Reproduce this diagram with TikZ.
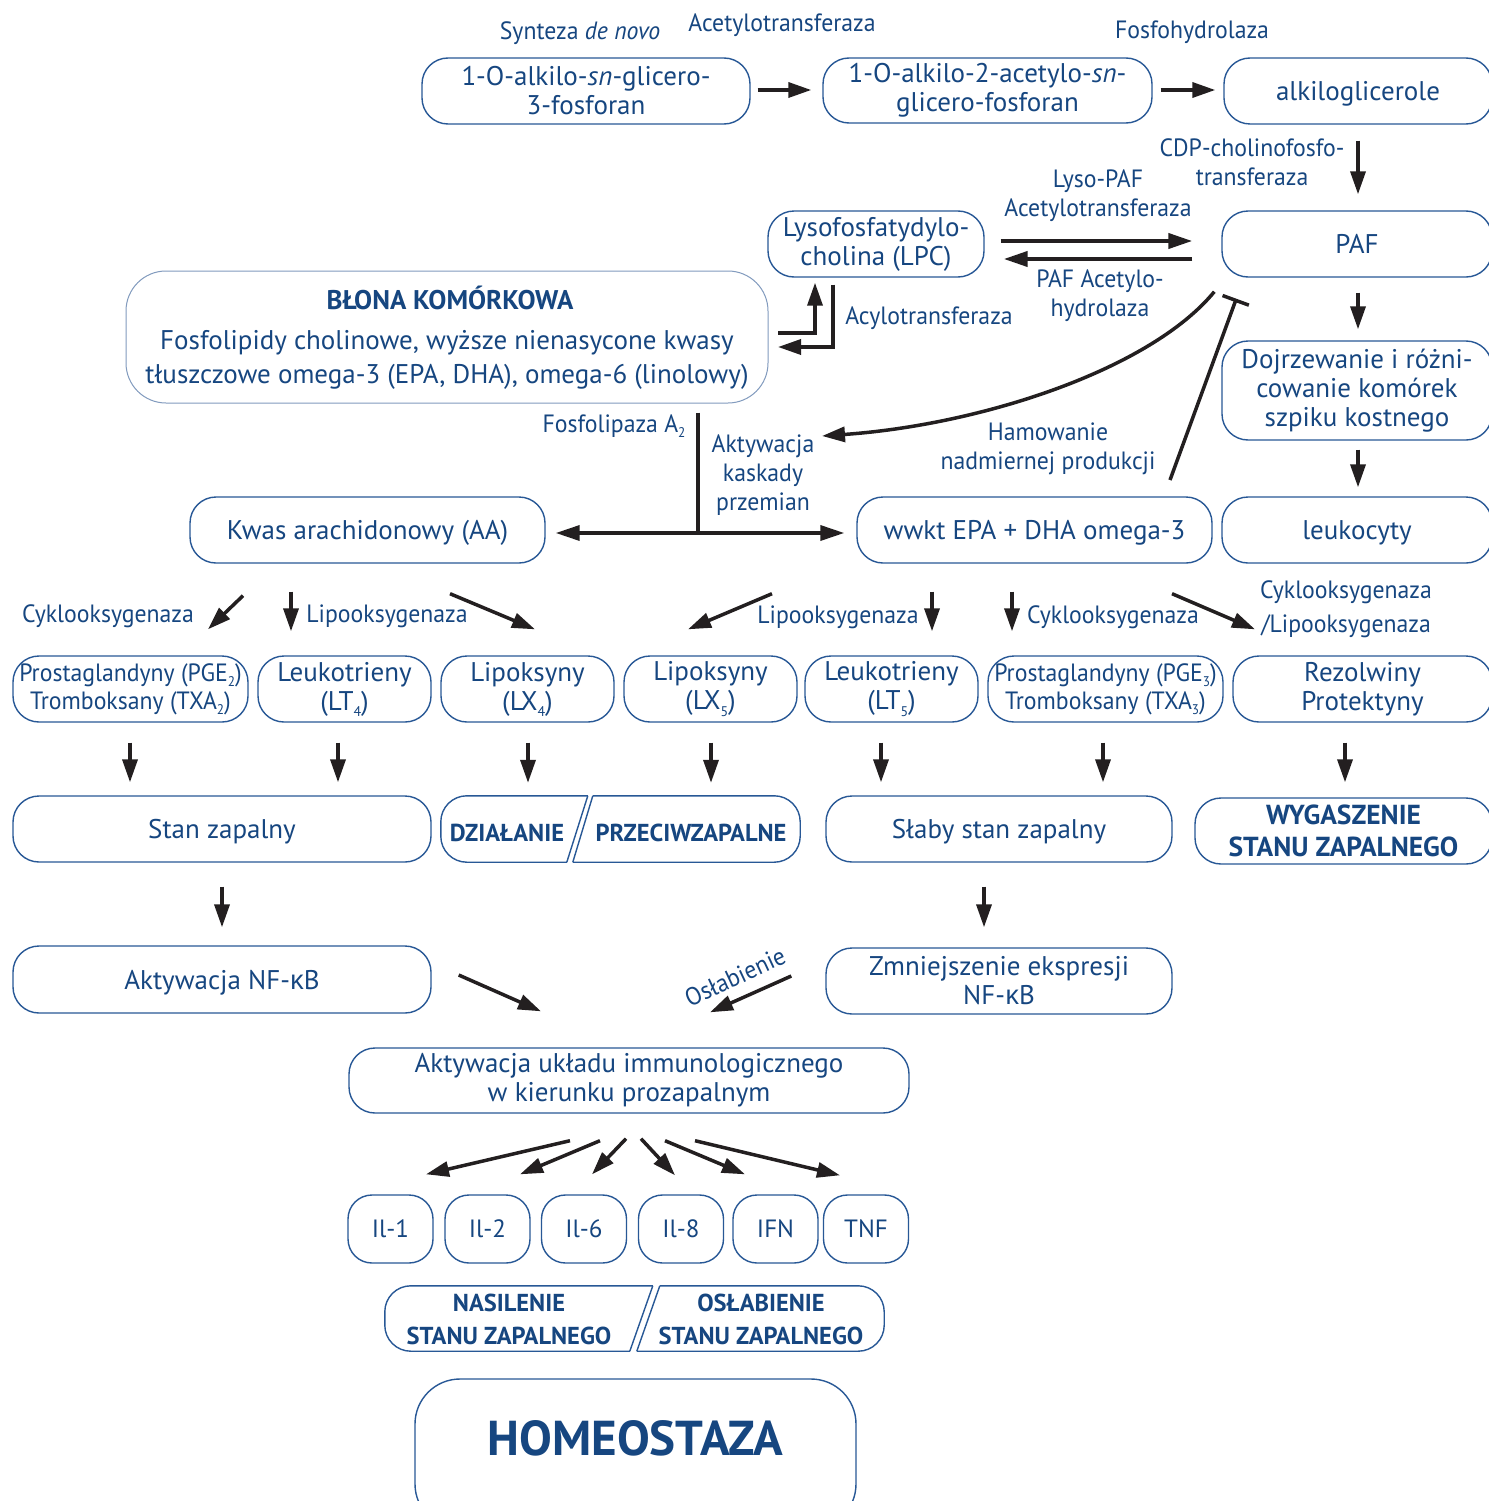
\documentclass[tikz,border=0pt]{standalone}
\usepackage{fontspec}
\setmainfont{PT Sans}
\newfontfamily\condfam[FakeStretch=0.95]{PT Sans}
\newfontfamily\greekfam{Open Sans}
\usetikzlibrary{arrows.meta}
\definecolor{tblue}{RGB}{22,70,128}
\definecolor{bblue}{RGB}{40,88,150}
\definecolor{mblue}{RGB}{130,155,190}
\definecolor{ink}{RGB}{35,31,32}
\newcommand\kap{{\greekfam κ}}
\newcommand\lowsub[1]{\raisebox{-0.45ex}{\fontsize{14}{14}\selectfont #1}}
\newcommand\boxfont{\fontsize{27}{29}\selectfont}
\newcommand\lblfont{\condfam\fontsize{25}{29}\selectfont}
\newcommand\capsfont{\fontsize{24.5}{32}\selectfont\bfseries}
\begin{document}
\begin{tikzpicture}[x=1pt,y=-1pt,
  box/.style={draw=bblue, line width=1.4pt, rounded corners=26pt, text=tblue,
    align=center, inner sep=0pt, font=\boxfont},
  oneline/.style={box, text depth=0pt},
  cbox/.style={box, font=\condfam\fontsize{25}{28}\selectfont},
  capbox/.style={box, font=\fontsize{27.5}{32}\selectfont\bfseries},
  cyto/.style={box, font=\fontsize{25}{29}\selectfont, rounded corners=24pt, minimum width=85pt, minimum height=68pt},
  lbl/.style={text=tblue, align=center, inner sep=0pt, font=\lblfont},
  caps/.style={text=tblue, align=center, inner sep=0pt, font=\capsfont},
  frame/.style={draw=bblue, line width=1.4pt, rounded corners=26pt},
  arr/.style={draw=ink, line width=3.5pt, -{Triangle[length=23pt,width=15pt]}},
  arrL/.style={draw=ink, line width=4pt, -{Triangle[length=24pt,width=15pt]}},
  both/.style={draw=ink, line width=3.5pt, {Triangle[length=24pt,width=15pt]}-{Triangle[length=24pt,width=15pt]}},
  inh/.style={draw=ink, line width=3.5pt, -{Bar[width=28pt]}},
  stem/.style={draw=ink, line width=3.5pt},
]
\fill[white] (0,0) rectangle (1488,1501);
\useasboundingbox (0,0) rectangle (1488,1501);

% ---------- PAF synthesis ----------
\node[box, minimum width=328pt, minimum height=66pt] (synth) at (586,91) {1-O-alkilo-\emph{sn}-glicero-\\3-fosforan};
\node[box, minimum width=329pt, minimum height=65pt] (acet) at (987.5,90.5) {1-O-alkilo-2-acetylo-\emph{sn}-\\glicero-fosforan};
\node[oneline, minimum width=268pt, minimum height=66pt] (alkil) at (1358,91) {alkiloglicerole};
\node[oneline, minimum width=270pt, minimum height=66pt] (paf) at (1357,244) {PAF};
\node[box, minimum width=216pt, minimum height=66pt] (lpc) at (876,244) {Lysofosfatydylo-\\cholina (LPC)};

\node[lbl] (lsyn) at (580,33) {Synteza \emph{de novo}};
\node[lbl] (lacet) at (782,25) {Acetylotransferaza};
\node[lbl] (lfosf) at (1192,32) {Fosfohydrolaza};
\node[lbl] (lcdp) at (1252,162) {CDP-cholinofosfo-\\transferaza};
\node[lbl] (llyso) at (1098,196) {Lyso-PAF\\Acetylotransferaza};
\node[lbl] (lhydro) at (1100,296) {PAF Acetylo-\\hydrolaza};
\node[lbl] (lacyl) at (929,318) {Acylotransferaza};

\draw[arr] ([xshift=7pt,yshift=1pt]synth.east) -- ([xshift=-11pt,yshift=0.5pt]acet.west);
\draw[arr] ([xshift=8pt,yshift=0.5pt]acet.east) -- ([xshift=-8pt,yshift=1pt]alkil.west);
\draw[arr] ([yshift=-16pt]alkil.south) -- ([xshift=1pt,yshift=16pt]paf.north);
\draw[arrL] ([xshift=16pt,yshift=3pt]lpc.east) -- ([xshift=-29pt,yshift=3pt]paf.west);
\draw[arrL] ([xshift=-29pt,yshift=-15pt]paf.west) -- ([xshift=19pt,yshift=-15pt]lpc.east);

% ---------- cell membrane ----------
\node[draw=mblue, line width=1pt, rounded corners=40pt, minimum width=642pt, minimum height=132pt] (memb) at (447,337) {};
\node[caps, font=\fontsize{27}{32}\selectfont\bfseries] (membT) at (450,298) {BŁONA KOMÓRKOWA};
\node[text=tblue, align=center, inner sep=0pt, font=\fontsize{27}{34}\selectfont] (membB) at (447,360)
  {Fosfolipidy cholinowe, wyższe nienasycone kwasy\\tłuszczowe omega-3 (EPA, DHA), omega-6 (linolowy)};

\coordinate (acyin) at (778,333);
\coordinate (acyout) at (778,347);
\draw[arr] (acyin) -| ([xshift=-61pt,yshift=-5pt]lpc.south);
\draw[arr] ([xshift=-43pt,yshift=-7pt]lpc.south) |- (acyout);

% ---------- PAF effects ----------
\node[box, minimum width=270pt, minimum height=99pt] (dojr) at (1357,390.5) {Dojrzewanie i różni-\\cowanie komórek\\szpiku kostnego};
\node[oneline, minimum width=270pt, minimum height=66pt] (leuk) at (1357,530) {leukocyty};
\draw[arr] ([xshift=1pt,yshift=-15pt]paf.south) -- ([xshift=1pt,yshift=11pt]dojr.north);
\draw[arr] ([xshift=1pt,yshift=-9pt]dojr.south) -- ([xshift=1pt,yshift=9pt]leuk.north);

% ---------- fatty acids ----------
\node[oneline, minimum width=355pt, minimum height=66pt] (aa) at (367.5,530) {Kwas arachidonowy (AA)};
\node[oneline, minimum width=355pt, minimum height=66pt] (epa) at (1034.5,530) {wwkt EPA + DHA omega-3};

\node[lbl] (lpla) at (614,426) {Fosfolipaza A\lowsub{2}};
\node[lbl] (lakt) at (763,475) {Aktywacja\\kaskady\\przemian};
\node[lbl] (lham) at (1048,449) {Hamowanie\\nadmiernej produkcji};

\coordinate (plaTop) at ([xshift=251pt,yshift=-9pt]memb.south);
\coordinate (aaline) at ([yshift=-3pt]aa.east);
\draw[stem] (plaTop) -- (plaTop |- aaline);
\draw[both] ([xshift=10pt]aaline) -- ([xshift=-12pt,yshift=-3pt]epa.west);

\coordinate (cascade) at (822,436);
\draw[arr] ([xshift=-7pt,yshift=-14pt]paf.south west) .. controls (1150,370) and (980,425) .. (cascade);
\coordinate (inhfoot) at (1170,480);
\draw[inh] (inhfoot) -- ([xshift=15pt,yshift=-21pt]paf.south west);

% ---------- eicosanoids ----------
\node[cbox, minimum width=235pt, minimum height=66pt] (pga) at (130.5,689) {Prostaglandyny (PGE\lowsub{2})\\Tromboksany (TXA\lowsub{2})};
\node[box, minimum width=173pt, minimum height=66pt] (lta) at (344.5,689) {Leukotrieny\\(LT\lowsub{4})};
\node[box, minimum width=173pt, minimum height=66pt] (lxa) at (527.5,689) {Lipoksyny\\(LX\lowsub{4})};
\node[box, minimum width=173pt, minimum height=66pt] (lxb) at (710.5,689) {Lipoksyny\\(LX\lowsub{5})};
\node[box, minimum width=173pt, minimum height=66pt] (ltb) at (891.5,689) {Leukotrieny\\(LT\lowsub{5})};
\node[cbox, minimum width=235pt, minimum height=66pt] (pgb) at (1105.5,689) {Prostaglandyny (PGE\lowsub{3})\\Tromboksany (TXA\lowsub{3})};
\node[box, minimum width=259pt, minimum height=66pt] (rez) at (1362.5,689) {Rezolwiny\\Protektyny};

\node[lbl] (lcox1) at (108,616) {Cyklooksygenaza};
\node[lbl] (llox1) at (387,616) {Lipooksygenaza};
\node[lbl] (llox2) at (838,617) {Lipooksygenaza};
\node[lbl] (lcox2) at (1113,617) {Cyklooksygenaza};
\node[lbl, font=\condfam\fontsize{25}{34}\selectfont] (lcoxlox) at (1346,609) {Cyklooksygenaza\\/Lipooksygenaza};

\draw[arr] ([xshift=-124.5pt,yshift=-32pt]aa.south) -- ([xshift=77.5pt,yshift=26pt]pga.north);
\draw[arr] ([xshift=-76.5pt,yshift=-28pt]aa.south) -- ([xshift=-53.5pt,yshift=24pt]lta.north);
\draw[arr] ([xshift=82.5pt,yshift=-30pt]aa.south) -- ([xshift=7.5pt,yshift=26pt]lxa.north);
\draw[arr] ([xshift=-262.5pt,yshift=-30pt]epa.south) -- ([xshift=-22.5pt,yshift=26pt]lxb.north);
\draw[arr] ([xshift=-102.5pt,yshift=-28pt]epa.south) -- ([xshift=40.5pt,yshift=24pt]ltb.north);
\draw[arr] ([xshift=-22.5pt,yshift=-28pt]epa.south) -- ([xshift=-93.5pt,yshift=24pt]pgb.north);
\draw[arr] ([xshift=137.5pt,yshift=-30pt]epa.south) -- ([xshift=-107.5pt,yshift=26pt]rez.north);

% ---------- outcomes ----------
\node[oneline, minimum width=418pt, minimum height=66pt] (stanz) at (222,829) {Stan zapalny};
\node[minimum width=359pt, minimum height=66pt, inner sep=0pt] (dzial) at (620.5,829) {};
\draw[frame] ([xshift=147pt]dzial.north west) -- (dzial.north west) -- (dzial.south west) -- ([xshift=126pt]dzial.south west);
\draw[frame] ([xshift=126pt]dzial.south west) -- ([xshift=147pt]dzial.north west);
\draw[frame] ([xshift=152pt]dzial.north west) -- (dzial.north east) -- (dzial.south east) -- ([xshift=132pt]dzial.south west);
\draw[frame] ([xshift=132pt]dzial.south west) -- ([xshift=152pt]dzial.north west);
\node[caps] (dzialL) at (507,833) {DZIAŁANIE};
\node[caps] (dzialR) at (691,833) {PRZECIWZAPALNE};
\node[oneline, minimum width=346pt, minimum height=66pt] (slaby) at (999,829) {Słaby stan zapalny};
\node[capbox, minimum width=297pt, minimum height=66pt] (wyg) at (1343.5,831) {WYGASZENIE\\STANU ZAPALNEGO};

\draw[arr] ([xshift=-0.5pt,yshift=-20pt]pga.south) -- ([xshift=-92pt,yshift=13pt]stanz.north);
\draw[arr] ([xshift=-6.5pt,yshift=-20pt]lta.south) -- ([xshift=116pt,yshift=13pt]stanz.north);
\draw[arr] ([xshift=0.5pt,yshift=-20pt]lxa.south) -- ([xshift=-92.5pt,yshift=13pt]dzial.north);
\draw[arr] ([xshift=0.5pt,yshift=-20pt]lxb.south) -- ([xshift=90.5pt,yshift=13pt]dzial.north);
\draw[arr] ([xshift=-10.5pt,yshift=-20pt]ltb.south) -- ([xshift=-118pt,yshift=13pt]slaby.north);
\draw[arr] ([xshift=-2.5pt,yshift=-20pt]pgb.south) -- ([xshift=104pt,yshift=13pt]slaby.north);
\draw[arr] ([xshift=-17.5pt,yshift=-20pt]rez.south) -- ([xshift=1.5pt,yshift=15pt]wyg.north);

% ---------- NF-kB ----------
\node[oneline, minimum width=418pt, minimum height=67pt] (nfkb) at (222,979.5) {Aktywacja NF-\kap B};
\node[box, minimum width=346pt, minimum height=66pt] (zmn) at (999,981) {Zmniejszenie ekspresji\\NF-\kap B};
\draw[arr] ([yshift=-24pt]stanz.south) -- ([yshift=18pt]nfkb.north);
\draw[arr] ([xshift=-15pt,yshift=-24pt]slaby.south) -- ([xshift=-15pt,yshift=20pt]zmn.north);

\node[box, minimum width=560pt, minimum height=65pt] (immun) at (629,1080.5) {Aktywacja układu immunologicznego\\w kierunku prozapalnym};
\draw[arr] ([xshift=27pt,yshift=4.5pt]nfkb.east) -- ([xshift=-88pt,yshift=36pt]immun.north);
\draw[arr] ([xshift=-34pt,yshift=5pt]zmn.west) -- ([xshift=81pt,yshift=35pt]immun.north);
\node[lbl, rotate=25] (losl) at (735,977) {Osłabienie};

% ---------- cytokines ----------
\node[cyto] (il1) at (390.5,1229) {Il-1};
\node[cyto] (il2) at (487.5,1229) {Il-2};
\node[cyto] (il6) at (584,1229) {Il-6};
\node[cyto] (il8) at (681,1229) {Il-8};
\node[cyto] (ifn) at (775.5,1229) {IFN};
\node[cyto] (tnf) at (866,1229) {TNF};
\draw[arr] ([xshift=-59pt,yshift=-27pt]immun.south) -- ([xshift=35.5pt,yshift=20pt]il1.north);
\draw[arr] ([xshift=-29pt,yshift=-27pt]immun.south) -- ([xshift=32.5pt,yshift=20pt]il2.north);
\draw[arr] ([xshift=-3pt,yshift=-25pt]immun.south) -- ([xshift=8pt,yshift=20pt]il6.north);
\draw[arr] ([xshift=12pt,yshift=-25pt]immun.south) -- ([xshift=-6pt,yshift=19pt]il8.north);
\draw[arr] ([xshift=36pt,yshift=-27pt]immun.south) -- ([xshift=-30.5pt,yshift=20pt]ifn.north);
\draw[arr] ([xshift=66pt,yshift=-27pt]immun.south) -- ([xshift=-26pt,yshift=19pt]tnf.north);

\node[minimum width=499pt, minimum height=65pt, inner sep=0pt] (stan) at (634.5,1318.5) {};
\draw[frame] ([xshift=268pt]stan.north west) -- (stan.north west) -- (stan.south west) -- ([xshift=245pt]stan.south west);
\draw[frame] ([xshift=245pt]stan.south west) -- ([xshift=268pt]stan.north west);
\draw[frame] ([xshift=275pt]stan.north west) -- (stan.north east) -- (stan.south east) -- ([xshift=252pt]stan.south west);
\draw[frame] ([xshift=252pt]stan.south west) -- ([xshift=275pt]stan.north west);
\node[caps, font=\fontsize{24.5}{33}\selectfont\bfseries] (stanL) at (509,1319) {NASILENIE\\STANU ZAPALNEGO};
\node[caps, font=\fontsize{24.5}{33}\selectfont\bfseries] (stanR) at (761,1319) {OSŁABIENIE\\STANU ZAPALNEGO};

% ---------- homeostasis ----------
\node[box, rounded corners=45pt, minimum width=441pt, minimum height=150pt] (homeo) at (635.5,1454) {};
\node[text=tblue, inner sep=0pt, font=\fontsize{49}{52}\selectfont\bfseries] (homeoT) at (635.5,1438) {HOMEOSTAZA};
\end{tikzpicture}
\end{document}
